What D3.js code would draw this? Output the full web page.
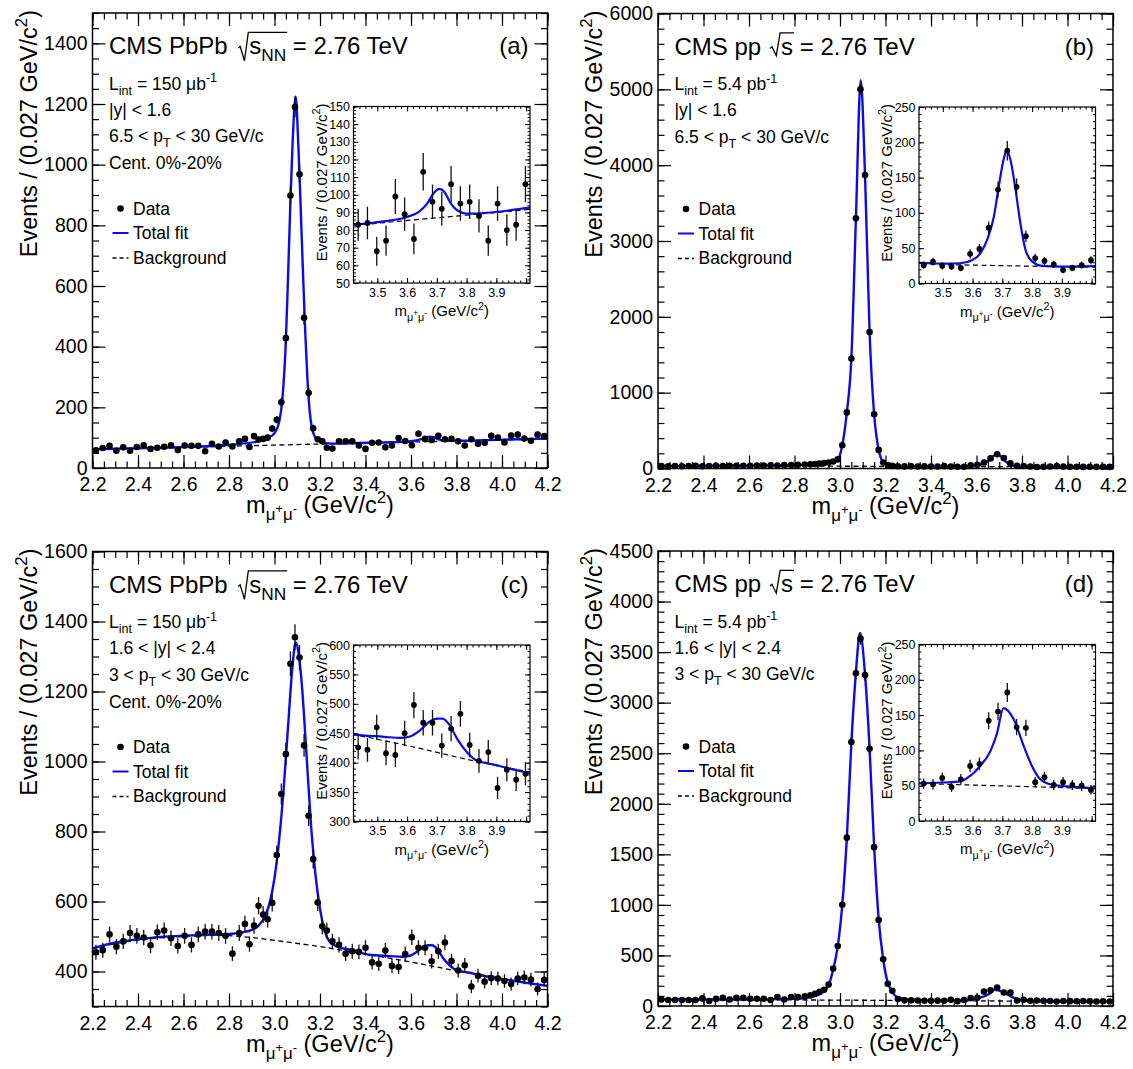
<!DOCTYPE html>
<html>
<head>
<meta charset="utf-8">
<script src="https://cdn.jsdelivr.net/npm/d3@7"></script>
<style>
  body { margin: 0; background: #fff; }
  text { font-family: "Liberation Sans", Arial, Helvetica, sans-serif; fill: #000; }
</style>
</head>
<body>
<svg id="fig" width="1133" height="1069"></svg>
<script>
// Bin centres: 0.03 wide below 2.86, 0.02 wide around the J/psi, 33 bins from 3.24 to 4.2
var massBins = [].concat(
  d3.range(22).map(function(i) { return 2.215 + 0.03 * i; }),
  d3.range(19).map(function(i) { return 2.87 + 0.02 * i; }),
  d3.range(33).map(function(i) { return 3.24 + (i + 0.5) * 0.96 / 33; })
);

// Events per bin
var countsA = [58, 66, 73, 57, 68, 57, 69, 75, 63, 67, 70, 75, 59, 74, 73, 73, 55, 80, 71, 84, 71, 88,
  96, 69, 105, 94, 96, 100, 130, 159, 217, 428, 898, 1190, 968, 495, 248, 131, 95, 88, 67,
  64, 88, 88, 88, 74, 63, 83, 84, 68, 74, 99, 89, 75, 113, 96, 92, 106, 95, 96, 88, 74, 95, 80, 83, 106,
  100, 84, 107, 110, 97, 90, 110, 105];
var countsB = [31, 29, 33, 30, 32, 34, 30, 33, 35, 32, 36, 34, 37, 35, 39, 38, 41, 40, 44, 46, 48, 52,
  55, 60, 66, 72, 80, 92, 120, 306, 740, 1450, 3300, 5000, 3870, 1800, 715, 245, 80, 45, 34,
  30, 28, 29, 27, 28, 27, 26, 31, 25, 24, 22, 42, 49, 79, 133, 188, 137, 67, 36, 32, 27, 19, 22, 26, 33,
  25, 22, 24, 21, 23, 22, 24, 21];
var countsC = [455, 461, 506, 471, 486, 510, 502, 497, 475, 512, 517, 495, 473, 502, 476, 506, 514, 514, 510, 502, 451, 510,
  536, 478, 531, 588, 563, 549, 596, 733, 907, 1021, 1279, 1355, 1297, 1046, 845, 721, 597, 529, 517,
  486, 476, 451, 458, 456, 468, 426, 422, 460, 416, 413, 450, 498, 468, 468, 429, 458, 483, 430, 403, 418, 357, 388, 371, 381,
  380, 373, 364, 380, 383, 377, 350, 376];
var countsD = [64, 59, 59, 59, 59, 59, 75, 49, 70, 80, 64, 80, 80, 72, 72, 72, 59, 88, 64, 88, 88, 95,
  105, 120, 140, 160, 212, 370, 593, 1002, 1665, 2610, 3290, 3633, 3273, 2543, 1571, 851, 463, 220, 150,
  68, 56, 56, 54, 52, 51, 53, 52, 61, 48, 59, 78, 81, 142, 155, 182, 133, 132, 55, 62, 51, 55, 51, 50, 44,
  50, 48, 47, 50, 46, 45, 47, 44];

// Total fit curves (mass, events)
var fitAx = [2.2, 2.5, 2.8, 2.87, 2.93, 2.97, 3.0, 3.02, 3.035, 3.05, 3.06, 3.07, 3.08, 3.093, 3.105, 3.115, 3.125, 3.135, 3.145, 3.155, 3.165, 3.18, 3.2, 3.25,
  3.4145, 3.509, 3.582, 3.618, 3.645, 3.666, 3.683, 3.699, 3.716, 3.739, 3.77, 3.833, 3.967, 4.2];
var fitAy = [62, 67, 76, 81, 88, 98, 115, 150, 230, 420, 640, 880, 1080, 1225, 1060, 860, 650, 450, 290, 185, 130, 100, 86, 80.5,
  83, 84.9, 87.4, 90.2, 95, 101, 103.3, 101.6, 96, 91.2, 89.3, 89.8, 92.7, 97];
var fitBx = [2.2, 2.5, 2.7, 2.8, 2.87, 2.93, 2.97, 2.99, 3.01, 3.03, 3.05, 3.07, 3.091, 3.11, 3.13, 3.15, 3.17, 3.19, 3.21, 3.24, 3.3,
  3.419, 3.492, 3.544, 3.58, 3.607, 3.628, 3.649, 3.664, 3.68, 3.688, 3.701, 3.717, 3.732, 3.748, 3.769, 3.8, 3.857, 3.967, 4.2];
var fitBy = [34, 36, 40, 45, 53, 65, 82, 115, 306, 740, 1450, 3300, 5120, 3870, 1800, 715, 245, 85, 45, 32, 29.5,
  29.2, 28.2, 28.7, 33, 43, 62, 95, 137, 177, 188, 175, 132, 85, 47.5, 31, 25, 24, 24.5, 23];
var fitCx = [2.2, 2.3, 2.4, 2.5, 2.6, 2.7, 2.8, 2.86, 2.9, 2.93, 2.96, 2.98, 3.0, 3.02, 3.04, 3.06, 3.08, 3.093, 3.105, 3.12, 3.14, 3.16, 3.18, 3.2, 3.22, 3.24, 3.27, 3.35,
  3.4145, 3.51, 3.5625, 3.594, 3.625, 3.656, 3.677, 3.693, 3.714, 3.74, 3.771, 3.802, 3.834, 3.875, 3.917, 3.967, 4.2];
var fitCy = [466, 483, 492, 499, 502, 505, 507, 512, 519, 531, 560, 599, 667, 774, 920, 1104, 1279, 1340, 1313, 1221, 1027, 823, 677, 580, 517, 487, 473, 460,
  448, 444, 442, 445, 456, 471, 475, 475, 465, 439.5, 417, 403, 399, 394, 388, 382, 359];
var fitDx = [2.2, 2.6, 2.8, 2.85, 2.89, 2.93, 2.95, 2.97, 2.99, 3.01, 3.03, 3.05, 3.07, 3.088, 3.11, 3.13, 3.15, 3.17, 3.19, 3.21, 3.23, 3.25, 3.3,
  3.4145, 3.492, 3.544, 3.575, 3.606, 3.638, 3.658, 3.679, 3.711, 3.742, 3.768, 3.794, 3.825, 3.877, 3.967, 4.2];
var fitDy = [66, 64, 70, 80, 100, 145, 205, 360, 590, 1000, 1660, 2600, 3300, 3690, 3280, 2550, 1580, 860, 460, 230, 140, 90, 66,
  53.5, 54.5, 56, 64, 78, 99, 123, 160, 144, 106.5, 78, 59, 52, 49, 46.4, 43];

// Background curves
var bgAx = [2.2, 2.7, 3.2, 3.4145, 3.77, 3.967, 4.2];
var bgAy = [61, 70, 79, 82.6, 88.5, 91.7, 96];
var bgBx = [2.2, 3.0, 3.419, 3.967, 4.2];
var bgBy = [34, 30, 27.3, 23, 21.5];
var bgCx = [2.2, 2.4, 2.6, 2.75, 2.9, 3.0, 3.2, 3.4145, 3.6, 3.8, 3.967, 4.2];
var bgCy = [466, 490, 500, 503, 497, 489, 471, 448, 427, 402, 384, 358];
var bgDx = [2.2, 3.0, 3.4145, 3.967, 4.2];
var bgDy = [65, 58, 53, 46, 43];

// Labels
var lumiPbPb = [["L", "n"], ["int", "sub"], [" = 150 μb", "n"], ["-1", "sup"]];
var lumiPP = [["L", "n"], ["int", "sub"], [" = 5.4 pb", "n"], ["-1", "sup"]];
var rapMid = [["|y| < 1.6", "n"]];
var rapFwd = [["1.6 < |y| < 2.4", "n"]];
var ptMid = [["6.5 < p", "n"], ["T", "sub"], [" < 30 GeV/c", "n"]];
var ptFwd = [["3 < p", "n"], ["T", "sub"], [" < 30 GeV/c", "n"]];
var centLabel = [["Cent. 0%-20%", "n"]];
var yTitle = [["Events / (0.027 GeV/c", "n"], ["2", "sup"], [")", "n"]];
var xTitle = [["m", "n"], ["μ", "sub"], ["+", "ssup"], ["μ", "sub"], ["-", "ssup"], [" (GeV/c", "n"], ["2", "sup"], [")", "n"]];

var FONT = "'Liberation Sans', Arial, Helvetica, sans-serif";
var BLUE = "#0a0af0";
var W = 455, H = 455;
var IX = 261, IY = 93.5, IW = 176.5, IH = 176.5;
var insetDom = [3.4145, 3.967];     // range of the bins shown in the insets
var insetAxisDom = [3.42, 4.013];   // range the inset axis labels are printed for
var insetLabelMax = 3.95;           // the inset prints labels up to 3.9 only

var panels = [
  {id: "a", x0: 92.5, y0: 13, sys: "PbPb", tag: "(a)", counts: countsA, fx: fitAx, fy: fitAy, bx: bgAx, by: bgAy,
   yDom: [0, 1500], yMaj: 200, yMin: 50, info: [lumiPbPb, rapMid, ptMid, centLabel], iy: [50, 150], iMaj: 10, iMin: 2},
  {id: "b", x0: 658, y0: 13.5, sys: "pp", tag: "(b)", counts: countsB, fx: fitBx, fy: fitBy, bx: bgBx, by: bgBy,
   yDom: [0, 6000], yMaj: 1000, yMin: 200, info: [lumiPP, rapMid, ptMid], iy: [0, 250], iMaj: 50, iMin: 10},
  {id: "c", x0: 92.5, y0: 551.5, sys: "PbPb", tag: "(c)", counts: countsC, fx: fitCx, fy: fitCy, bx: bgCx, by: bgCy,
   yDom: [300, 1600], yMaj: 200, yMin: 50, info: [lumiPbPb, rapFwd, ptFwd, centLabel], iy: [300, 600], iMaj: 50, iMin: 10},
  {id: "d", x0: 658, y0: 551, sys: "pp", tag: "(d)", counts: countsD, fx: fitDx, fy: fitDy, bx: bgDx, by: bgDy,
   yDom: [0, 4500], yMaj: 500, yMin: 100, info: [lumiPP, rapFwd, ptFwd], iy: [0, 250], iMaj: 50, iMin: 10}
];

var svg = d3.select("#fig");
svg.append("rect").attr("width", 1133).attr("height", 1069).attr("fill", "#fff");
var defs = svg.append("defs");

var SHIFT = {n: 0, sub: 0.3, sup: -0.42, ssup: 0.02};
var SIZE = {n: 1, sub: 0.72, sup: 0.72, ssup: 0.55};
function rich(t, parts, fs) {
  var cur = 0;
  parts.forEach(function(p) {
    var off = SHIFT[p[1]] * fs;
    t.append("tspan").attr("dy", off - cur).style("font-size", (SIZE[p[1]] * fs) + "px").text(p[0]);
    cur = off;
  });
  return t;
}

function tickRange(a, b, step) {
  return d3.range(Math.ceil(a / step - 1e-6), Math.floor(b / step + 1e-6) + 1)
    .map(function(i) { return +(i * step).toFixed(6); });
}

function drawAxes(g, x, y, w, h, o) {
  var xMaj = tickRange(x.domain()[0], x.domain()[1], o.xMaj);
  var xMin = tickRange(x.domain()[0], x.domain()[1], o.xMin);
  var yMaj = tickRange(y.domain()[0], y.domain()[1], o.yMaj);
  var yMin = tickRange(y.domain()[0], y.domain()[1], o.yMin);
  var f1 = d3.format(".1f");
  var xFmt = function(v) { return v > o.xLabelMax ? "" : f1(v); };
  var sets = [
    [d3.axisBottom(x).tickValues(xMaj).tickSize(-o.tMaj).tickPadding(o.padX).tickFormat(xFmt), "translate(0," + h + ")"],
    [d3.axisBottom(x).tickValues(xMin).tickSize(-o.tMin).tickFormat(""), "translate(0," + h + ")"],
    [d3.axisTop(x).tickValues(xMaj).tickSize(-o.tMaj).tickFormat(""), null],
    [d3.axisTop(x).tickValues(xMin).tickSize(-o.tMin).tickFormat(""), null],
    [d3.axisLeft(y).tickValues(yMaj).tickSize(-o.tMaj).tickPadding(o.padY).tickFormat(d3.format("d")), null],
    [d3.axisLeft(y).tickValues(yMin).tickSize(-o.tMin).tickFormat(""), null],
    [d3.axisRight(y).tickValues(yMaj).tickSize(-o.tMaj).tickFormat(""), "translate(" + w + ",0)"],
    [d3.axisRight(y).tickValues(yMin).tickSize(-o.tMin).tickFormat(""), "translate(" + w + ",0)"]
  ];
  sets.forEach(function(s) {
    var a = g.append("g").call(s[0]);
    if (s[1]) a.attr("transform", s[1]);
    a.select(".domain").remove();
    a.attr("font-family", FONT).attr("font-size", o.fs).attr("color", "#000");
    a.selectAll("line").attr("stroke-width", o.sw);
  });
}

function plotContent(g, x, y, w, h, p, clipId, st) {
  defs.append("clipPath").attr("id", clipId)
    .append("rect").attr("width", w).attr("height", h);
  var c = g.append("g").attr("clip-path", "url(#" + clipId + ")");
  var line = d3.line().x(function(d) { return x(d[0]); }).y(function(d) { return y(d[1]); })
    .curve(d3.curveMonotoneX);
  c.append("path").datum(d3.zip(p.bx, p.by)).attr("d", line)
    .attr("fill", "none").attr("stroke", "#000").attr("stroke-width", st.bgW).attr("stroke-dasharray", "5,3.5");
  c.append("path").datum(d3.zip(p.fx, p.fy)).attr("d", line)
    .attr("fill", "none").attr("stroke", BLUE).attr("stroke-width", st.fitW);
  var xd = x.domain(), yd = y.domain();
  var pts = d3.zip(massBins, p.counts).filter(function(d) { return d[0] >= xd[0] && d[0] <= xd[1]; });
  // Poisson error bars
  c.selectAll("line.err").data(pts).join("line").attr("class", "err")
    .attr("x1", function(d) { return x(d[0]); }).attr("x2", function(d) { return x(d[0]); })
    .attr("y1", function(d) { return y(d[1] - Math.sqrt(d[1])); })
    .attr("y2", function(d) { return y(d[1] + Math.sqrt(d[1])); })
    .attr("stroke", "#111").attr("stroke-width", st.errW);
  g.append("g").selectAll("circle").data(pts.filter(function(d) { return d[1] >= yd[0] && d[1] <= yd[1]; }))
    .join("circle")
    .attr("cx", function(d) { return x(d[0]); }).attr("cy", function(d) { return y(d[1]); })
    .attr("r", st.r).attr("fill", "#000");
}

function cmsTitle(g, p) {
  var fs = 24, base = 41;
  var t = g.append("text").attr("x", 16.5).attr("y", base).style("font-size", fs + "px");
  var pre = p.sys === "PbPb" ? "CMS PbPb " : "CMS pp ";
  t.append("tspan").text(pre);
  t.append("tspan").attr("dx", p.sys === "PbPb" ? 0.62 * fs : 0.55 * fs).text("s");
  var endIdx = pre.length;
  if (p.sys === "PbPb") {
    t.append("tspan").attr("dy", 0.3 * fs).style("font-size", (0.72 * fs) + "px").text("NN");
    t.append("tspan").attr("dy", -0.3 * fs).text(" = 2.76 TeV");
    endIdx = pre.length + 2;
  } else {
    t.append("tspan").text(" = 2.76 TeV");
  }
  var node = t.node();
  var sx = node.getStartPositionOfChar(pre.length).x;
  var ex = node.getEndPositionOfChar(endIdx).x;
  var bot = p.sys === "PbPb" ? 0.28 : 0.05;
  // square-root sign drawn as strokes with the bar over the argument
  var pts = [[sx - 0.46 * fs, base - 0.25 * fs], [sx - 0.38 * fs, base - 0.32 * fs],
    [sx - 0.2 * fs, base + bot * fs], [sx - 0.04 * fs, base - 0.9 * fs], [ex + 0.04 * fs, base - 0.9 * fs]];
  g.append("path").attr("d", d3.line()(pts)).attr("fill", "none").attr("stroke", "#000").attr("stroke-width", 1.3);
  g.append("text").attr("x", W - 19).attr("y", base).attr("text-anchor", "end")
    .style("font-size", fs + "px").text(p.tag);
}

function drawPanel(p) {
  var g = svg.append("g").attr("transform", "translate(" + p.x0 + "," + p.y0 + ")");
  var x = d3.scaleLinear().domain([2.2, 4.2]).range([0, W]);
  var y = d3.scaleLinear().domain(p.yDom).range([H, 0]);
  plotContent(g, x, y, W, H, p, "clip-" + p.id, {r: 3.3, fitW: 2.4, bgW: 1.3, errW: 1.3});
  drawAxes(g, x, y, W, H, {xMaj: 0.2, xMin: 0.05, yMaj: p.yMaj, yMin: p.yMin, tMaj: 13, tMin: 6.5,
    padX: 9.5, padY: 5, fs: 19.5, sw: 1.2, xLabelMax: 99});
  g.append("rect").attr("width", W).attr("height", H).attr("fill", "none")
    .attr("stroke", "#000").attr("stroke-width", 1.5);

  // axis titles
  rich(g.append("text").attr("transform", "translate(-56,-3) rotate(-90)").attr("text-anchor", "end")
    .style("font-size", "23.5px"), yTitle, 23.5);
  rich(g.append("text").attr("x", W / 2).attr("y", H + 45).attr("text-anchor", "middle")
    .style("font-size", "23.5px"), xTitle, 23.5);

  cmsTitle(g, p);
  var lineY = [76.5, 102.5, 129, 156];
  p.info.forEach(function(parts, i) {
    rich(g.append("text").attr("x", 16.5).attr("y", lineY[i]).style("font-size", "17.5px"), parts, 17.5);
  });

  // legend
  var lg = g.append("g");
  lg.append("circle").attr("cx", 28).attr("cy", 195.5).attr("r", 3.3).attr("fill", "#000");
  lg.append("text").attr("x", 40.5).attr("y", 201.5).style("font-size", "17.5px").text("Data");
  lg.append("line").attr("x1", 20).attr("x2", 36).attr("y1", 220).attr("y2", 220)
    .attr("stroke", BLUE).attr("stroke-width", 2);
  lg.append("text").attr("x", 40.5).attr("y", 226).style("font-size", "17.5px").text("Total fit");
  lg.append("line").attr("x1", 20).attr("x2", 36).attr("y1", 245).attr("y2", 245)
    .attr("stroke", "#000").attr("stroke-width", 1.3).attr("stroke-dasharray", "4,3");
  lg.append("text").attr("x", 40.5).attr("y", 250.5).style("font-size", "17.5px").text("Background");

  // inset around the psi(2S)
  var ig = g.append("g").attr("transform", "translate(" + IX + "," + IY + ")");
  var ix = d3.scaleLinear().domain(insetDom).range([0, IW]);
  var ixAxis = d3.scaleLinear().domain(insetAxisDom).range([0, IW]);
  var iy = d3.scaleLinear().domain(p.iy).range([IH, 0]);
  ig.append("rect").attr("width", IW).attr("height", IH).attr("fill", "#fff");
  plotContent(ig, ix, iy, IW, IH, p, "iclip-" + p.id, {r: 2.9, fitW: 2.2, bgW: 1.2, errW: 1.3});
  drawAxes(ig, ixAxis, iy, IW, IH, {xMaj: 0.1, xMin: 0.02, yMaj: p.iMaj, yMin: p.iMin, tMaj: 5, tMin: 2.5,
    padX: 5, padY: 3.5, fs: 12.5, sw: 1, xLabelMax: insetLabelMax});
  ig.append("rect").attr("width", IW).attr("height", IH).attr("fill", "none")
    .attr("stroke", "#000").attr("stroke-width", 1.2);
  rich(ig.append("text").attr("transform", "translate(-27,-3) rotate(-90)").attr("text-anchor", "end")
    .style("font-size", "15px"), yTitle, 15);
  rich(ig.append("text").attr("x", IW / 2).attr("y", IH + 33).attr("text-anchor", "middle")
    .style("font-size", "15px"), xTitle, 15);
}

panels.forEach(drawPanel);
</script>
</body>
</html>
